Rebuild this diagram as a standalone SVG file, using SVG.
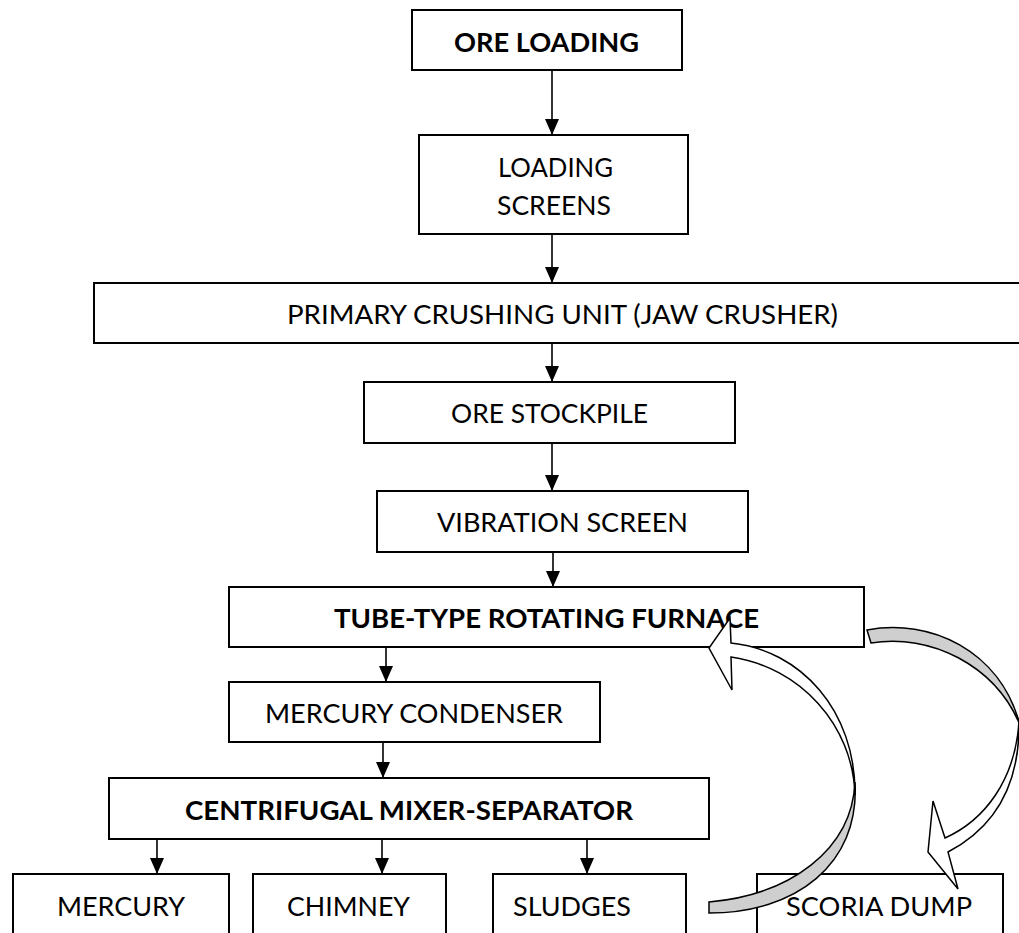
<svg xmlns="http://www.w3.org/2000/svg" width="1019" height="933" viewBox="0 0 1019 933">
<style>
.box{fill:#fff;stroke:#000;stroke-width:2}
.t{font-family:Lato,"Liberation Sans",sans-serif;font-size:26.5px;fill:#000}
.b{font-weight:bold}
.c{fill:none;stroke:#000;stroke-width:1.6}
.front{fill:#fff;stroke:#000;stroke-width:1.5;stroke-linejoin:miter}
.back{fill:#cfcfcf;stroke:#000;stroke-width:1.5}
</style>
<defs>
<marker id="ah" viewBox="0 0 16 14" refX="16" refY="7" markerWidth="16" markerHeight="14" markerUnits="userSpaceOnUse" orient="auto">
<path d="M0,0 L16,7 L0,14 Z" fill="#000"/>
</marker>
</defs>
<rect width="1019" height="933" fill="#fff"/>
<g id="connectors">
<line class="c" x1="552" y1="70" x2="552" y2="135" marker-end="url(#ah)"/>
<line class="c" x1="552" y1="234" x2="552" y2="283" marker-end="url(#ah)"/>
<line class="c" x1="552" y1="343" x2="552" y2="382" marker-end="url(#ah)"/>
<line class="c" x1="552" y1="443" x2="552" y2="491" marker-end="url(#ah)"/>
<line class="c" x1="553" y1="552" x2="553" y2="587" marker-end="url(#ah)"/>
<line class="c" x1="386" y1="647" x2="386" y2="682" marker-end="url(#ah)"/>
<line class="c" x1="383" y1="742" x2="383" y2="778" marker-end="url(#ah)"/>
<line class="c" x1="157" y1="839" x2="157" y2="874" marker-end="url(#ah)"/>
<line class="c" x1="382" y1="839" x2="382" y2="874" marker-end="url(#ah)"/>
<line class="c" x1="587" y1="839" x2="587" y2="874" marker-end="url(#ah)"/>
</g>
<g id="ore-loading">
<rect class="box" x="412" y="10" width="270" height="60"/>
<text class="t b" x="454" y="52" textLength="185" lengthAdjust="spacingAndGlyphs">ORE LOADING</text>
</g>
<g id="loading-screens">
<rect class="box" x="419" y="135" width="269" height="99"/>
<text class="t" x="498" y="177" textLength="115" lengthAdjust="spacingAndGlyphs">LOADING</text>
<text class="t" x="497" y="215" textLength="114" lengthAdjust="spacingAndGlyphs">SCREENS</text>
</g>
<g id="primary-crushing">
<rect class="box" x="94" y="283" width="940" height="60"/>
<text class="t" x="287" y="324" textLength="551" lengthAdjust="spacingAndGlyphs">PRIMARY CRUSHING UNIT (JAW CRUSHER)</text>
</g>
<g id="ore-stockpile">
<rect class="box" x="364" y="382" width="371" height="61"/>
<text class="t" x="451" y="423" textLength="197" lengthAdjust="spacingAndGlyphs">ORE STOCKPILE</text>
</g>
<g id="vibration-screen">
<rect class="box" x="377" y="491" width="371" height="61"/>
<text class="t" x="437" y="532" textLength="251" lengthAdjust="spacingAndGlyphs">VIBRATION SCREEN</text>
</g>
<g id="furnace">
<rect class="box" x="229" y="587" width="635" height="60"/>
<text class="t b" x="334" y="628" textLength="425" lengthAdjust="spacingAndGlyphs">TUBE-TYPE ROTATING FURNACE</text>
</g>
<g id="condenser">
<rect class="box" x="229" y="682" width="371" height="60"/>
<text class="t" x="265" y="723" textLength="298" lengthAdjust="spacingAndGlyphs">MERCURY CONDENSER</text>
</g>
<g id="centrifugal">
<rect class="box" x="109" y="778" width="600" height="61"/>
<text class="t b" x="185" y="820" textLength="448" lengthAdjust="spacingAndGlyphs">CENTRIFUGAL MIXER-SEPARATOR</text>
</g>
<g id="mercury">
<rect class="box" x="13" y="874" width="216" height="70"/>
<text class="t" x="57" y="916" textLength="128" lengthAdjust="spacingAndGlyphs">MERCURY</text>
</g>
<g id="chimney">
<rect class="box" x="253" y="874" width="193" height="70"/>
<text class="t" x="287" y="916" textLength="123" lengthAdjust="spacingAndGlyphs">CHIMNEY</text>
</g>
<g id="sludges">
<rect class="box" x="493" y="874" width="193" height="70"/>
<text class="t" x="513" y="916" textLength="118" lengthAdjust="spacingAndGlyphs">SLUDGES</text>
</g>
<g id="scoria-dump">
<rect class="box" x="757" y="874" width="246" height="70"/>
<text class="t" x="786" y="916" textLength="186" lengthAdjust="spacingAndGlyphs">SCORIA DUMP</text>
</g>
<g id="recycle-arrow">
<path class="front" d="M731,643 C800,650 856,710 855,795 C853,725 800,667 731,657 L732,690 L709,648 L730,618 Z"/>
<path class="back" d="M709,902 C790,895 852,850 855,782 C860,865 795,913 709,913 Z"/>
</g>
<g id="scoria-arrow">
<path class="back" d="M867,630 C930,618 1000,650 1020,725 C995,665 930,633 871,643 Z"/>
<path class="front" d="M933,801 L928,852 L958,889 L948,852 C990,830 1020,790 1019,722 C1015,780 985,820 945,838 Z"/>
</g>
</svg>
